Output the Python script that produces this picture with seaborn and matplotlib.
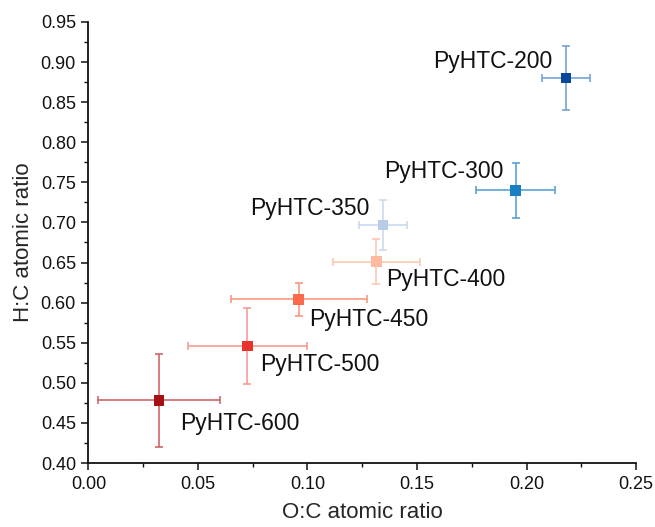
import numpy as np
import pandas as pd
import matplotlib
matplotlib.use("Agg")
import matplotlib.pyplot as plt
from matplotlib.ticker import MultipleLocator, FormatStrFormatter
import seaborn as sns

# Elemental ratios of the hydrochar samples
samples = ["PyHTC-200", "PyHTC-300", "PyHTC-350", "PyHTC-400",
           "PyHTC-450", "PyHTC-500", "PyHTC-600"]
oc_ratio = [0.218, 0.195, 0.1345, 0.1315, 0.096, 0.0726, 0.0322]
hc_ratio = [0.880, 0.740, 0.697, 0.651, 0.604, 0.546, 0.478]
oc_err = [0.011, 0.018, 0.011, 0.020, 0.031, 0.027, 0.028]
hc_err = [0.040, 0.034, 0.031, 0.028, 0.021, 0.047, 0.058]

marker_colors = ["#08479a", "#1a80c4", "#b8cce8", "#fcbba1",
                 "#fb6a4a", "#e8322a", "#a50f15"]
err_colors = ["#6b9bd4", "#4e9ad3", "#c8d7ee", "#fcc4ae",
              "#fb8f74", "#f4948a", "#cc5a5e"]

# label offsets (pixels) relative to each point, plus alignment
label_offsets = [(-14, 17, "right"), (-12, 19, "right"), (-14, 16, "right"),
                 (10, -18, "left"), (10, -20, "left"), (13, -19, "left"),
                 (21, -23, "left")]

df = pd.DataFrame({"sample": samples, "oc": oc_ratio, "hc": hc_ratio})

sns.set_style("ticks")
plt.rcParams["font.family"] = ["Liberation Sans", "DejaVu Sans"]

fig = plt.figure(figsize=(6.55, 5.27), dpi=100)
ax = fig.add_axes([0.1351, 0.1214, 0.971 - 0.1351, 0.9583 - 0.1214])

for x, y, xe, ye, c in zip(oc_ratio, hc_ratio, oc_err, hc_err, err_colors):
    ax.errorbar(x, y, xerr=xe, yerr=ye, fmt="none", ecolor=c,
                elinewidth=1.1, capsize=2.8, capthick=1.1, zorder=2)

sns.scatterplot(data=df, x="oc", y="hc", hue="sample",
                palette=dict(zip(samples, marker_colors)),
                marker="s", s=58, linewidth=0, legend=False, ax=ax, zorder=3)

for name, x, y, (dx, dy, ha) in zip(samples, oc_ratio, hc_ratio, label_offsets):
    ax.annotate(name, (x, y), xytext=(dx, dy), textcoords="offset pixels",
                ha=ha, va="center", fontsize=16.5, color="#111111")

ax.set_xlim(0, 0.25)
ax.set_ylim(0.40, 0.95)
ax.xaxis.set_major_locator(MultipleLocator(0.05))
ax.xaxis.set_minor_locator(MultipleLocator(0.025))
ax.yaxis.set_major_locator(MultipleLocator(0.05))
ax.yaxis.set_minor_locator(MultipleLocator(0.025))
ax.xaxis.set_major_formatter(FormatStrFormatter("%.2f"))
ax.yaxis.set_major_formatter(FormatStrFormatter("%.2f"))

ax.set_xlabel("O:C atomic ratio", fontsize=16, labelpad=7)
ax.set_ylabel("H:C atomic ratio", fontsize=16, labelpad=5)

sns.despine(ax=ax)
for s in ("left", "bottom"):
    ax.spines[s].set_linewidth(1.3)
    ax.spines[s].set_color("#111111")
ax.tick_params(which="major", direction="out", length=5, width=1.1,
               labelsize=13, colors="#111111", pad=4)
ax.tick_params(which="minor", direction="out", length=3, width=1.0,
               colors="#111111")

fig.savefig("out.png", dpi=100)
